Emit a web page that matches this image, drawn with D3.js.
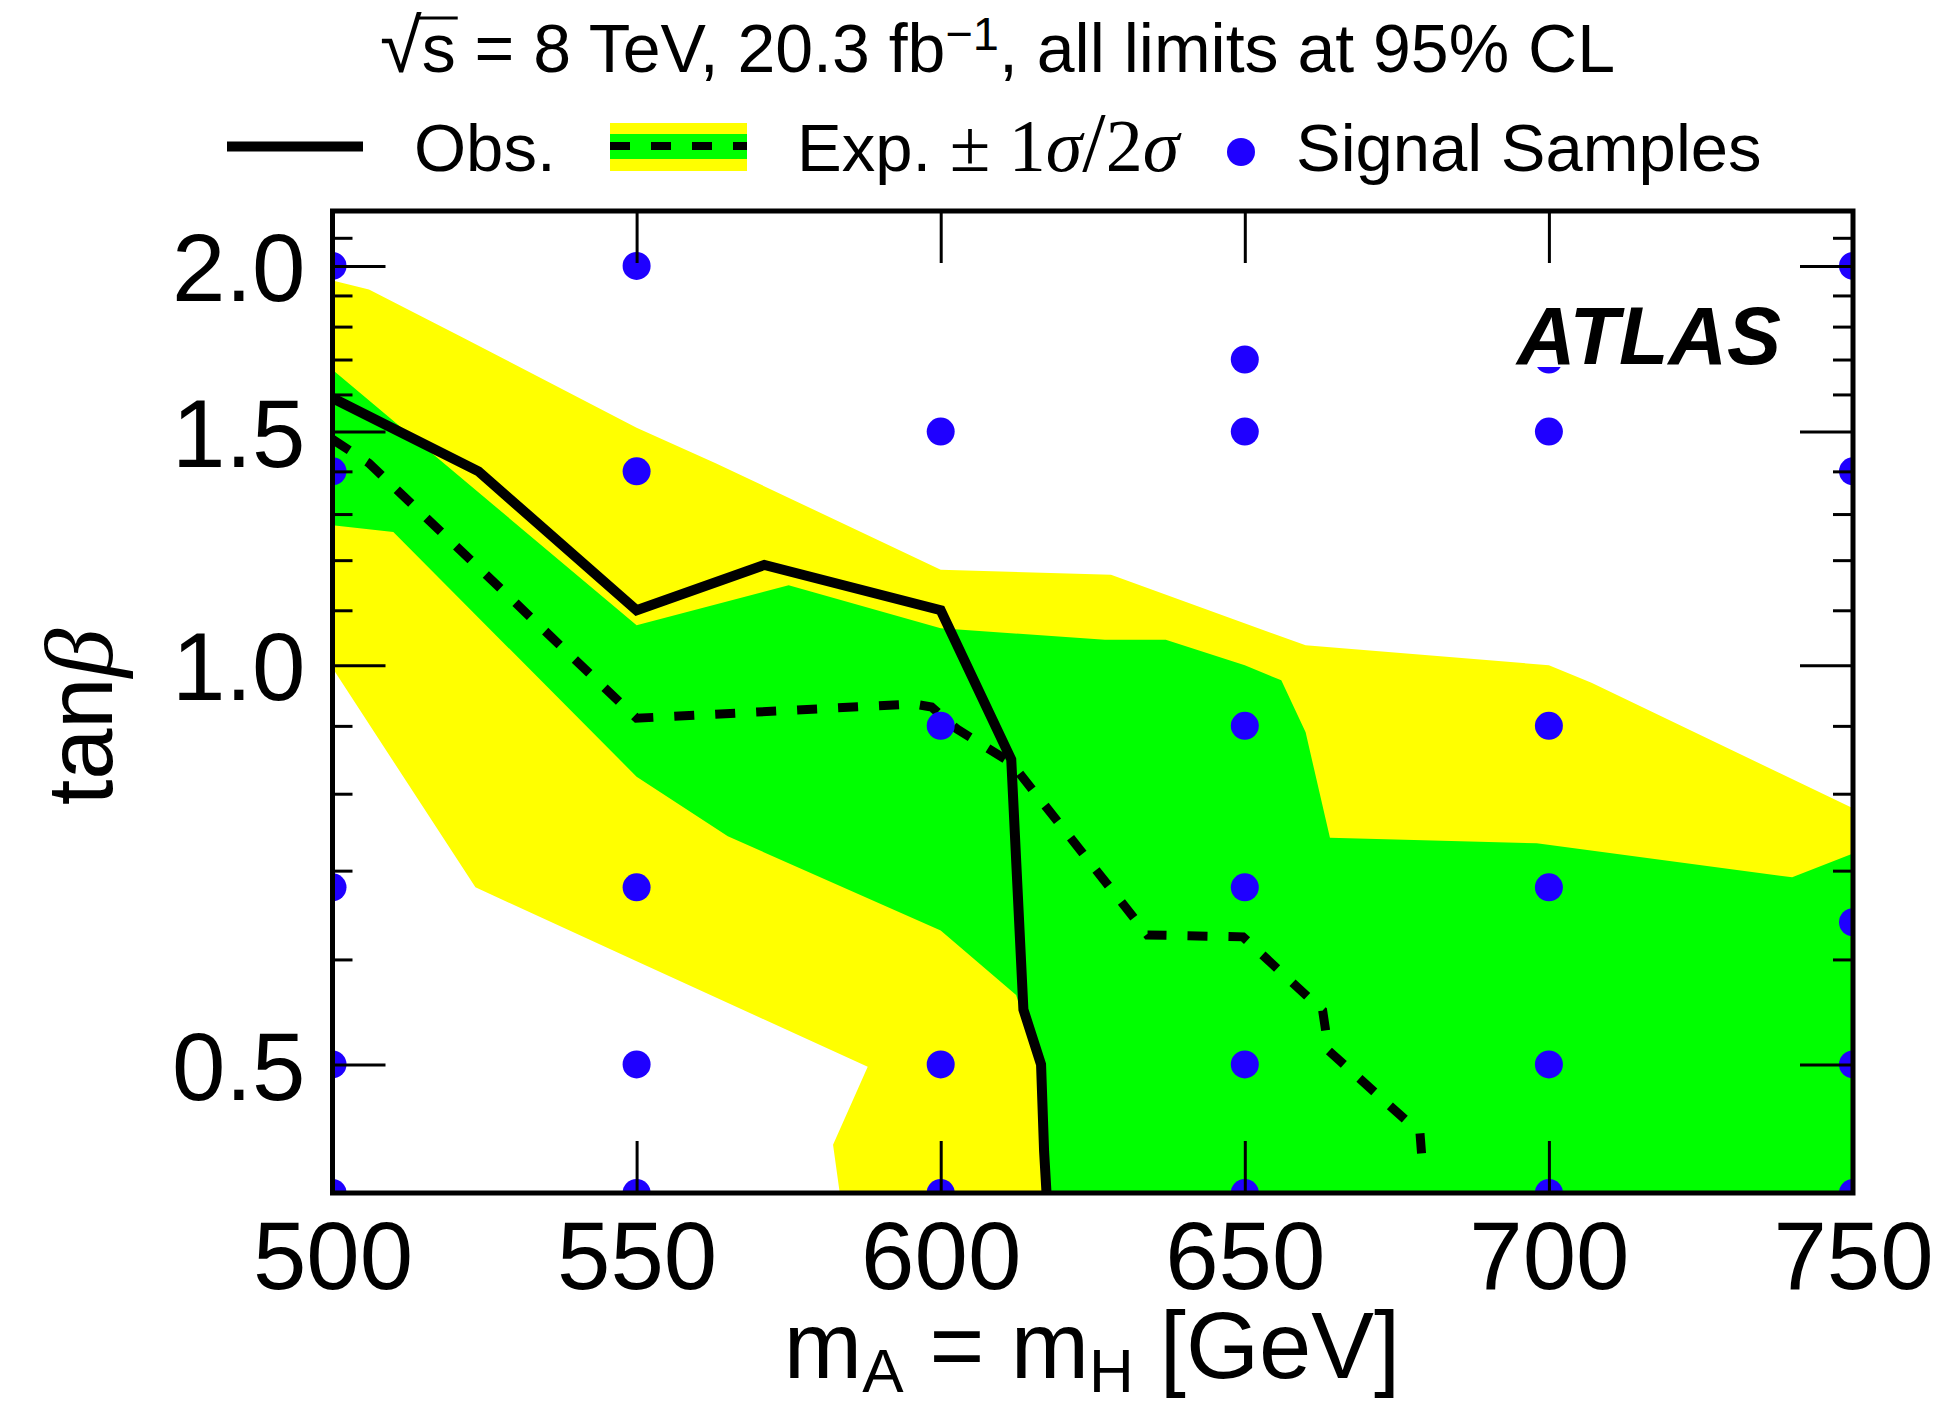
<!DOCTYPE html>
<html><head><meta charset="utf-8">
<script src="https://cdn.jsdelivr.net/npm/d3@7"></script>
<style>
html,body{margin:0;padding:0;background:#fff;}
svg{display:block;}
</style></head><body>
<svg id="c" width="1955" height="1406"></svg>
<script>
// ---------------- data ----------------
const massTicks = [500, 550, 600, 650, 700, 750];
const tanbMajorTicks = [0.5, 1.0, 1.5, 2.0];
const tanbMinorTicks = [0.6, 0.7, 0.8, 0.9, 1.1, 1.2, 1.3, 1.4, 1.6, 1.7, 1.8, 1.9, 2.1];

// expected +-2 sigma band (yellow)
const band2MassHi = [500, 506, 521, 550, 563, 600, 628, 660, 700, 707, 750];
const band2TanbHi = [1.95, 1.92, 1.77, 1.51, 1.42, 1.18, 1.17, 1.035, 1.0, 0.97, 0.78];
const band2MassLo = [500, 523.5, 550, 588, 582.3, 583.4];
const band2TanbLo = [0.995, 0.68, 0.598, 0.498, 0.435, 0.40];

// expected +-1 sigma band (green)
const band1MassHi = [500, 550, 575, 600, 627, 637, 650, 656, 660, 664, 698, 740, 750];
const band1TanbHi = [1.67, 1.072, 1.149, 1.066, 1.045, 1.045, 1.0, 0.974, 0.89, 0.741, 0.734, 0.692, 0.721];
const band1MassLo = [500, 510, 550, 565, 600, 612.4, 616, 618];
const band1TanbLo = [1.275, 1.26, 0.824, 0.743, 0.631, 0.564, 0.5, 0.4];

// expected limit (dashed)
const expMass = [500, 506, 550, 595.5, 598.5, 602.7, 611.6, 634, 649.7, 662.8, 663.8, 678.8, 679.3];
const expTanb = [1.48, 1.42, 0.912, 0.935, 0.93, 0.895, 0.844, 0.626, 0.624, 0.549, 0.512, 0.444, 0.415];

// observed limit (solid)
const obsMass = [500, 524, 550, 571, 600, 611.6, 613.6, 616.5, 617, 617.4];
const obsTanb = [1.59, 1.40, 1.10, 1.19, 1.10, 0.849, 0.55, 0.50, 0.43, 0.40];

// signal samples
const sampleMass = [500,500,500,500,500, 550,550,550,550,550, 600,600,600,600,
                    650,650,650,650,650,650, 700,700,700,700,700,700, 750,750,750,750,750];
const sampleTanb = [2.0,1.4,0.68,0.5,0.4, 2.0,1.4,0.68,0.5,0.4, 1.5,0.9,0.5,0.4,
                    1.7,1.5,0.9,0.68,0.5,0.4, 1.7,1.5,0.9,0.68,0.5,0.4, 2.0,1.4,0.64,0.5,0.4];

// ---------------- drawing ----------------
const FONT = '"Liberation Sans", Arial, Helvetica, sans-serif';
const SERIF = '"Liberation Serif", "DejaVu Serif", serif';
const YEL = "#ffff00", GRN = "#00ff00", BLU = "#1f00ff";

const svg = d3.select("#c");
const P = {left: 332.5, right: 1853, top: 211, bottom: 1193};
const x = d3.scaleLinear().domain([500, 750]).range([P.left, P.right]);
const y = d3.scaleLog().domain([0.4, 2.2]).range([P.bottom, P.top]);

svg.append("defs").append("clipPath").attr("id", "clip").append("rect")
  .attr("x", P.left).attr("y", P.top)
  .attr("width", P.right - P.left).attr("height", P.bottom - P.top);

const g = svg.append("g").attr("clip-path", "url(#clip)");
const line = d3.line().x(d => x(d[0])).y(d => y(d[1]));

function bandPts(mHi, tHi, mLo, tLo) {
  const pts = d3.zip(mHi, tHi);
  pts.push([x.domain()[1], y.domain()[0]]);
  return pts.concat(d3.zip(mLo, tLo).reverse());
}
g.append("path").attr("d", line(bandPts(band2MassHi, band2TanbHi, band2MassLo, band2TanbLo)) + "Z")
  .attr("fill", YEL);
g.append("path").attr("d", line(bandPts(band1MassHi, band1TanbHi, band1MassLo, band1TanbLo)) + "Z")
  .attr("fill", GRN);

g.append("path").attr("d", line(d3.zip(expMass, expTanb)))
  .attr("fill", "none").attr("stroke", "#000").attr("stroke-width", 9)
  .attr("stroke-dasharray", "20,21").attr("stroke-linejoin", "miter");
g.append("path").attr("d", line(d3.zip(obsMass, obsTanb)))
  .attr("fill", "none").attr("stroke", "#000").attr("stroke-width", 10)
  .attr("stroke-linejoin", "miter");

g.selectAll("circle.s").data(d3.zip(sampleMass, sampleTanb)).enter().append("circle")
  .attr("class", "s").attr("cx", d => x(d[0])).attr("cy", d => y(d[1])).attr("r", 14)
  .attr("fill", BLU);

// ATLAS label with white background
const atlas = svg.append("text").attr("x", 1517).attr("y", 364)
  .attr("font-family", FONT).attr("font-size", 81).attr("font-weight", "bold")
  .attr("font-style", "italic").text("ATLAS");
const ab = atlas.node().getBBox();
svg.insert("rect", () => atlas.node())
  .attr("x", ab.x).attr("y", ab.y).attr("width", ab.width).attr("height", 364 - ab.y + 3)
  .attr("fill", "#fff");

// axes
function styleAxis(sel) {
  sel.attr("font-family", FONT).attr("font-size", 96);
  sel.select(".domain").remove();
  sel.selectAll(".tick line").attr("stroke", "#000").attr("stroke-width", 3);
  sel.selectAll(".tick text").attr("fill", "#000");
}
svg.append("g").attr("transform", `translate(${P.left},0)`)
  .call(d3.axisLeft(y).tickValues(tanbMajorTicks).tickSize(-53).tickPadding(27).tickFormat(d3.format(".1f")))
  .call(styleAxis).selectAll(".tick text").attr("dy", "0.36em");
svg.append("g").attr("transform", `translate(${P.left},0)`)
  .call(d3.axisLeft(y).tickValues(tanbMinorTicks).tickSize(-20).tickFormat(""))
  .call(styleAxis);
svg.append("g").attr("transform", `translate(${P.right},0)`)
  .call(d3.axisRight(y).tickValues(tanbMajorTicks).tickSize(-53).tickFormat(""))
  .call(styleAxis);
svg.append("g").attr("transform", `translate(${P.right},0)`)
  .call(d3.axisRight(y).tickValues(tanbMinorTicks).tickSize(-20).tickFormat(""))
  .call(styleAxis);
svg.append("g").attr("transform", `translate(0,${P.bottom})`)
  .call(d3.axisBottom(x).tickValues(massTicks).tickSize(-52).tickPadding(28).tickFormat(d3.format("d")))
  .call(styleAxis);
svg.append("g").attr("transform", `translate(0,${P.top})`)
  .call(d3.axisTop(x).tickValues(massTicks).tickSize(-52).tickFormat(""))
  .call(styleAxis);

// frame
svg.append("rect").attr("x", P.left).attr("y", P.top)
  .attr("width", P.right - P.left).attr("height", P.bottom - P.top)
  .attr("fill", "none").attr("stroke", "#000").attr("stroke-width", 5);

// axis titles
const xt = svg.append("text").attr("x", 1092).attr("y", 1378).attr("text-anchor", "middle")
  .attr("font-family", FONT).attr("font-size", 94);
xt.append("tspan").text("m");
xt.append("tspan").attr("font-size", 62).attr("dy", 14).text("A");
xt.append("tspan").attr("dy", -14).text(" = m");
xt.append("tspan").attr("font-size", 62).attr("dy", 14).text("H");
xt.append("tspan").attr("dy", -14).text(" [GeV]");

const yt = svg.append("text").attr("transform", "translate(112,717) rotate(-90)")
  .attr("text-anchor", "middle").attr("font-family", FONT).attr("font-size", 92);
yt.append("tspan").text("tan");
yt.append("tspan").attr("font-family", SERIF).attr("font-style", "italic").attr("font-size", 98).text("β");

// title
const title = svg.append("text").attr("x", 380).attr("y", 72)
  .attr("font-family", FONT).attr("font-size", 68);
title.append("tspan").attr("font-size", 76).text("√");
title.append("tspan").text("s");
title.append("tspan").text(" = 8 TeV, 20.3 fb");
title.append("tspan").attr("font-size", 47).attr("dy", -22).text("−1");
title.append("tspan").attr("dy", 22).text(", all limits at 95% CL");
const tn = title.node();
const s0 = tn.getStartPositionOfChar(1).x, s1 = tn.getEndPositionOfChar(1).x;
svg.append("line").attr("x1", s0 - 3).attr("x2", s1 + 2).attr("y1", 18).attr("y2", 18)
  .attr("stroke", "#000").attr("stroke-width", 3);

// legend
svg.append("line").attr("x1", 227).attr("x2", 363).attr("y1", 146.5).attr("y2", 146.5)
  .attr("stroke", "#000").attr("stroke-width", 10);
svg.append("text").attr("x", 414).attr("y", 171).attr("font-family", FONT).attr("font-size", 67).text("Obs.");
svg.append("rect").attr("x", 610).attr("y", 123).attr("width", 137).attr("height", 48).attr("fill", YEL);
svg.append("rect").attr("x", 610).attr("y", 134).attr("width", 137).attr("height", 25).attr("fill", GRN);
svg.append("line").attr("x1", 610).attr("x2", 747).attr("y1", 146).attr("y2", 146)
  .attr("stroke", "#000").attr("stroke-width", 8).attr("stroke-dasharray", "20,21");
const lt = svg.append("text").attr("x", 797).attr("y", 171).attr("font-family", FONT).attr("font-size", 67);
lt.append("tspan").text("Exp. ");
lt.append("tspan").attr("font-family", SERIF).attr("font-size", 74).text("± ");
lt.append("tspan").attr("font-family", SERIF).attr("font-size", 74).text("1");
lt.append("tspan").attr("font-family", SERIF).attr("font-size", 74).attr("font-style", "italic").text("σ");
lt.append("tspan").attr("font-family", SERIF).attr("font-size", 84).text("/");
lt.append("tspan").attr("font-family", SERIF).attr("font-size", 74).text("2");
lt.append("tspan").attr("font-family", SERIF).attr("font-size", 74).attr("font-style", "italic").text("σ");
svg.append("circle").attr("cx", 1241).attr("cy", 152).attr("r", 14).attr("fill", BLU);
svg.append("text").attr("x", 1296).attr("y", 171).attr("font-family", FONT).attr("font-size", 67).text("Signal Samples");
</script>
</body></html>
